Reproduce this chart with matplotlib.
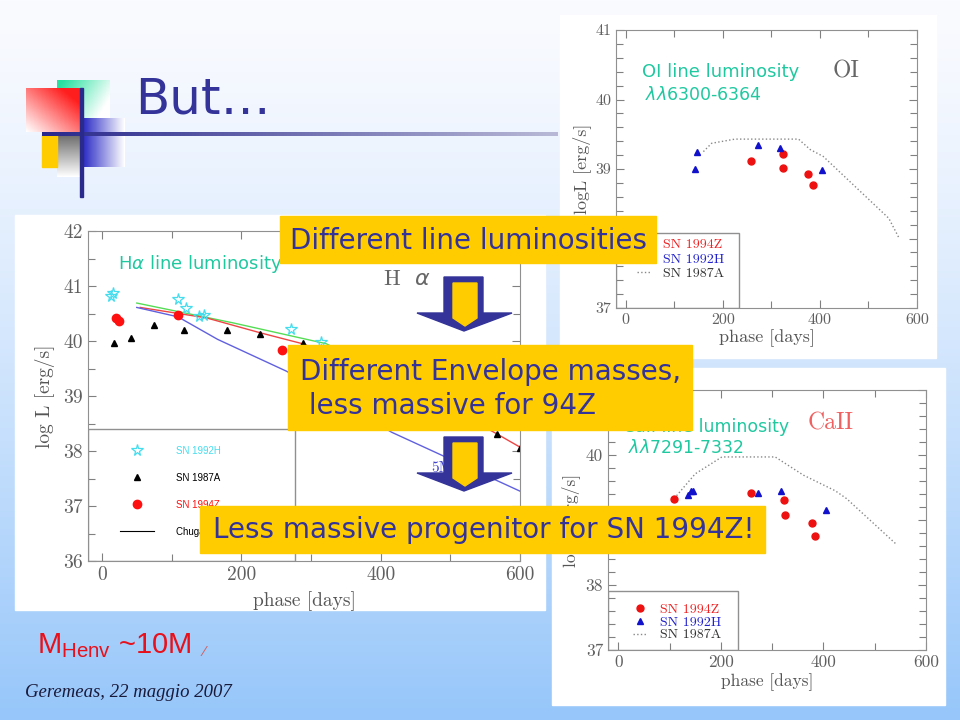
import numpy as np
import matplotlib.pyplot as plt
from matplotlib.patches import Rectangle, Polygon
from matplotlib.lines import Line2D
from matplotlib.ticker import MultipleLocator

W, H = 960, 720

# ---- H-alpha panel (bottom left) ----
ha_92h_phase = [13, 16, 109, 120, 139, 146, 272, 315]
ha_92h_logl = [40.82, 40.87, 40.76, 40.60, 40.46, 40.47, 40.21, 39.99]
ha_87a_phase = [17, 41, 75, 118, 180, 227, 288, 567, 600]
ha_87a_logl = [39.97, 40.05, 40.30, 40.20, 40.20, 40.12, 39.97, 38.31, 38.05]
ha_94z_phase = [20, 24, 109, 258]
ha_94z_logl = [40.41, 40.36, 40.47, 39.84]
# model curves
ha_green_phase = [50, 188, 322, 360, 600]
ha_green_logl = [40.69, 40.33, 39.95, 39.70, 38.60]
ha_red_phase = [55, 150, 227, 288, 350, 400, 500, 567, 600]
ha_red_logl = [40.61, 40.42, 40.15, 39.95, 39.63, 39.35, 38.78, 38.31, 38.07]
ha_blue_phase = [50, 109, 166, 265, 416, 600]
ha_blue_logl = [40.61, 40.44, 40.03, 39.45, 38.34, 37.27]
ha_legend_labels = ["SN 1992H", "SN 1987A", "SN 1994Z", "Chugai model"]

# ---- OI panel (top right) ----
oi_92h_phase = [142, 147, 272, 317, 405]
oi_92h_logl = [39.00, 39.24, 39.35, 39.30, 38.98]
oi_94z_phase = [259, 323, 325, 376, 385]
oi_94z_logl = [39.11, 39.22, 39.01, 38.93, 38.77]
oi_87a_phase = [160, 177, 225, 356, 380, 407, 542, 562]
oi_87a_logl = [39.25, 39.37, 39.43, 39.43, 39.28, 39.18, 38.29, 38.02]

# ---- CaII panel (bottom right) ----
ca_92h_phase = [135, 142, 146, 272, 317, 405]
ca_92h_logl = [39.38, 39.44, 39.44, 39.42, 39.45, 39.15]
ca_94z_phase = [109, 259, 323, 325, 377, 384]
ca_94z_logl = [39.33, 39.41, 39.31, 39.07, 38.96, 38.75]
ca_87a_phase = [109, 150, 202, 306, 361, 423, 445, 543]
ca_87a_logl = [39.33, 39.71, 39.97, 39.97, 39.69, 39.45, 39.33, 38.62]

sn_legend_labels = ["SN 1994Z", "SN 1992H", "SN 1987A"]

NAVY = "#333399"
YELLOW = "#ffcc00"
TEAL = "#20c8a0"

fig = plt.figure(figsize=(9.6, 7.2), dpi=100)

# background layer in pixel coordinates
bg = fig.add_axes([0, 0, 1, 1], zorder=0)
bg.set_xlim(0, W)
bg.set_ylim(H, 0)
bg.axis("off")

t = np.linspace(0, 1, H) ** 1.3
top = np.array([250, 251, 255]) / 255
bot = np.array([150, 198, 250]) / 255
grad = (top[None, :] * (1 - t[:, None]) + bot[None, :] * t[:, None])[:, None, :]
bg.imshow(grad, extent=(0, W, H, 0), aspect="auto", zorder=0)


def grad_box(x0, y0, x1, y1, color, weight):
    n = 40
    u, v = np.meshgrid(np.linspace(0, 1, n), np.linspace(0, 1, n))
    k = np.clip(weight(u, v), 0, 1)[..., None]
    c = np.array(color)[None, None, :] / 255
    img = np.ones((n, n, 3)) * (1 - k) + c * k
    bg.imshow(img, extent=(x0, x1, y1, y0), aspect="auto", zorder=1)


# logo squares
grad_box(57, 80, 110, 118, (40, 225, 160), lambda u, v: 1.1 - 0.9 * u - 0.4 * v)
grad_box(26, 88, 80, 132, (255, 30, 30), lambda u, v: 0.6 * u + 0.6 * (1 - v))
grad_box(80, 118, 125, 167, (50, 50, 200), lambda u, v: 1.1 - 1.1 * u)
grad_box(57, 134, 80, 177, (90, 90, 90), lambda u, v: 0.9 - 0.9 * v)
bg.add_patch(Rectangle((42, 134), 15, 33, color=YELLOW, zorder=2))
# horizontal and vertical rules
line = np.linspace(0, 1, 200)[None, :, None]
c0 = np.array([40, 40, 140]) / 255
c1 = np.array([185, 185, 215]) / 255
bg.imshow(c0 * (1 - line) + c1 * line, extent=(42, 558, 136, 132), aspect="auto", zorder=3)
bg.add_patch(Rectangle((79.5, 88), 3, 109, color="#2a2a8c", zorder=3))

bg.text(135, 113, "But…", fontsize=36, color=NAVY, family="DejaVu Sans", va="baseline")
bg.text(37, 653, r"M$_{\mathregular{Henv}}$ ~10M", fontsize=21, color="#e8101a",
        family="Liberation Sans", va="baseline")
bg.text(203, 656, "⁄", fontsize=10, color="#d06060", va="baseline")
bg.text(25, 697, "Geremeas, 22 maggio 2007", fontsize=13.5, color="#1a1a3a",
        family="Liberation Serif", style="italic", va="baseline")

# panel backgrounds
bg.add_patch(Rectangle((15, 215), 530, 395, color="white", zorder=2))
bg.add_patch(Rectangle((560, 15), 376, 343, color="white", zorder=2))
bg.add_patch(Rectangle((552, 368), 393, 337, color="white", zorder=2))


def px_axes(l, t_, r, b):
    return fig.add_axes([l / W, 1 - b / H, (r - l) / W, (b - t_) / H], zorder=1)


def style(ax, ymin, ymax, yminor, size):
    ax.set_facecolor("white")
    ax.set_xlim(-20, 600)
    ax.set_ylim(ymin, ymax)
    ax.xaxis.set_major_locator(MultipleLocator(200))
    ax.xaxis.set_minor_locator(MultipleLocator(100))
    ax.yaxis.set_major_locator(MultipleLocator(1))
    ax.yaxis.set_minor_locator(MultipleLocator(yminor))
    ax.tick_params(which="both", direction="in", top=True, right=True,
                   color="#808080", labelcolor="#606060", labelsize=size,
                   labelfontfamily="cmr10", width=0.8)
    ax.tick_params(which="major", length=6)
    ax.tick_params(which="minor", length=5)
    for sp in ax.spines.values():
        sp.set_color("#909090")


lab_kw = dict(family="cmr10", color="#555555")

# ---- H alpha ----
ax1 = px_axes(88, 231, 520, 561)
style(ax1, 36, 42, 0.5, 14)
ax1.plot(ha_green_phase, ha_green_logl, color="#55dd55", lw=1)
ax1.plot(ha_red_phase, ha_red_logl, color="#ee4444", lw=1)
ax1.plot(ha_blue_phase, ha_blue_logl, color="#6060e0", lw=1)
s1, = ax1.plot(ha_92h_phase, ha_92h_logl, ls="none", marker="*", ms=8.5,
               mfc="none", mec="#44ddee", mew=0.9)
s2, = ax1.plot(ha_87a_phase, ha_87a_logl, ls="none", marker="^", ms=5, color="k")
s3, = ax1.plot(ha_94z_phase, ha_94z_logl, ls="none", marker="o", ms=6, color="#ff1010")
ax1.set_xlabel("phase [days]", fontsize=14, labelpad=5, **lab_kw)
ax1.set_ylabel("log L [erg/s]", fontsize=14, labelpad=6, **lab_kw)
ax1.add_patch(Rectangle((0, 0), 0.48, 0.4, transform=ax1.transAxes, fill=False,
                        ec="#909090", lw=1))
ax1.legend([s1, s2, s3, Line2D([], [], color="k", lw=0.8)], ha_legend_labels,
           loc="upper left", bbox_to_anchor=(0.074, 0.35), frameon=False,
           prop={"family": "Liberation Sans", "size": 7},
           labelcolor=["#44ddee", "k", "#ff1010", "k"],
           handlelength=3.5, handletextpad=2.3, labelspacing=1.75,
           borderpad=0, borderaxespad=0)
ax1.text(23, 41.4, r"H$\alpha$ line luminosity", color=TEAL, fontsize=13, va="center")
ax1.text(403, 41.13, r"H  $\alpha$", color="#666666", fontsize=16, va="center",
         family="cmr10")
ax1.text(473, 37.69, "5M", color="#4444cc", fontsize=11, va="center", family="cmr10")

# ---- OI ----
ax2 = px_axes(616, 30, 917, 308)
style(ax2, 37, 41, 0.2, 11.5)
ax2.plot(oi_87a_phase, oi_87a_logl, color="#888888", ls=":", lw=1)
o1, = ax2.plot(oi_94z_phase, oi_94z_logl, ls="none", marker="o", ms=5, color="#ee1111")
o2, = ax2.plot(oi_92h_phase, oi_92h_logl, ls="none", marker="^", ms=4, color="#1111cc")
ax2.set_xlabel("phase [days]", fontsize=13, labelpad=2, **lab_kw)
ax2.set_ylabel("logL [erg/s]", fontsize=13, labelpad=3, **lab_kw)
ax2.add_patch(Rectangle((0, 0), 0.41, 0.27, transform=ax2.transAxes, fill=False,
                        ec="#909090", lw=1))
ax2.legend([o1, o2, Line2D([], [], color="#888888", ls=":", lw=1)], sn_legend_labels,
           loc="upper left", bbox_to_anchor=(0.07, 0.25), frameon=False,
           prop={"family": "cmr10", "size": 10},
           labelcolor=["#ee2222", "#2222cc", "#333333"],
           handlelength=1.0, handletextpad=0.9, labelspacing=0.12,
           borderpad=0, borderaxespad=0)
ax2.text(33, 40.40, "OI line luminosity", color=TEAL, fontsize=13, va="center")
ax2.text(39, 40.06, r"$\lambda\lambda$6300-6364", color=TEAL, fontsize=12.5, va="center")
ax2.text(427, 40.40, "OI", color="#666666", fontsize=17, va="center", family="cmr10")

# ---- CaII ----
ax3 = px_axes(608, 390, 926, 650)
style(ax3, 37, 41, 0.2, 12.5)
ax3.plot(ca_87a_phase, ca_87a_logl, color="#888888", ls=":", lw=1)
c1_, = ax3.plot(ca_94z_phase, ca_94z_logl, ls="none", marker="o", ms=5, color="#ee1111")
c2_, = ax3.plot(ca_92h_phase, ca_92h_logl, ls="none", marker="^", ms=4, color="#1111cc")
ax3.set_xlabel("phase [days]", fontsize=12.5, labelpad=2, **lab_kw)
ax3.set_ylabel("log L [erg/s]", fontsize=12.5, labelpad=4, **lab_kw)
ax3.add_patch(Rectangle((0, 0), 0.41, 0.2275, transform=ax3.transAxes, fill=False,
                        ec="#909090", lw=1))
ax3.legend([c1_, c2_, Line2D([], [], color="#888888", ls=":", lw=1)], sn_legend_labels,
           loc="upper left", bbox_to_anchor=(0.08, 0.18), frameon=False,
           prop={"family": "cmr10", "size": 10},
           labelcolor=["#ee2222", "#2222cc", "#333333"],
           handlelength=1.0, handletextpad=0.9, labelspacing=0.0,
           borderpad=0, borderaxespad=0)
ax3.text(10, 40.43, "CaII line luminosity", color=TEAL, fontsize=12.5, va="center")
ax3.text(370, 40.49, "CaII", color="#f06060", fontsize=17, va="center", family="cmr10")
ax3.text(19, 40.11, r"$\lambda\lambda$7291-7332", color=TEAL, fontsize=12.5, va="center")

# ---- overlay: yellow boxes and arrows ----
ov = fig.add_axes([0, 0, 1, 1], zorder=10)
ov.set_xlim(0, W)
ov.set_ylim(H, 0)
ov.axis("off")
ov.patch.set_alpha(0)

ov.add_patch(Rectangle((280, 216), 376, 47, color=YELLOW))
ov.text(290, 241, "Different line luminosities", fontsize=20, color=NAVY, va="center")
ov.add_patch(Rectangle((288, 345), 404, 85, color=YELLOW))
ov.text(300, 389, "Different Envelope masses,\n less massive for 94Z", fontsize=20,
        color=NAVY, va="center", linespacing=1.3)
ov.add_patch(Rectangle((200, 506), 565, 47, color=YELLOW))
ov.text(213, 530, "Less massive progenitor for SN 1994Z!", fontsize=20, color=NAVY,
        va="center")

for y0 in (277, 437):
    outer = [(444, y0), (483, y0), (483, y0 + 36), (512, y0 + 36), (464, y0 + 54),
             (417, y0 + 36), (444, y0 + 36)]
    inner = [(453, y0 + 6), (477, y0 + 6), (477, y0 + 41), (465, y0 + 49), (453, y0 + 41)]
    ov.add_patch(Polygon(outer, closed=True, color="#333399"))
    ov.add_patch(Polygon(inner, closed=True, color=YELLOW))

fig.savefig("out.png", dpi=100)
